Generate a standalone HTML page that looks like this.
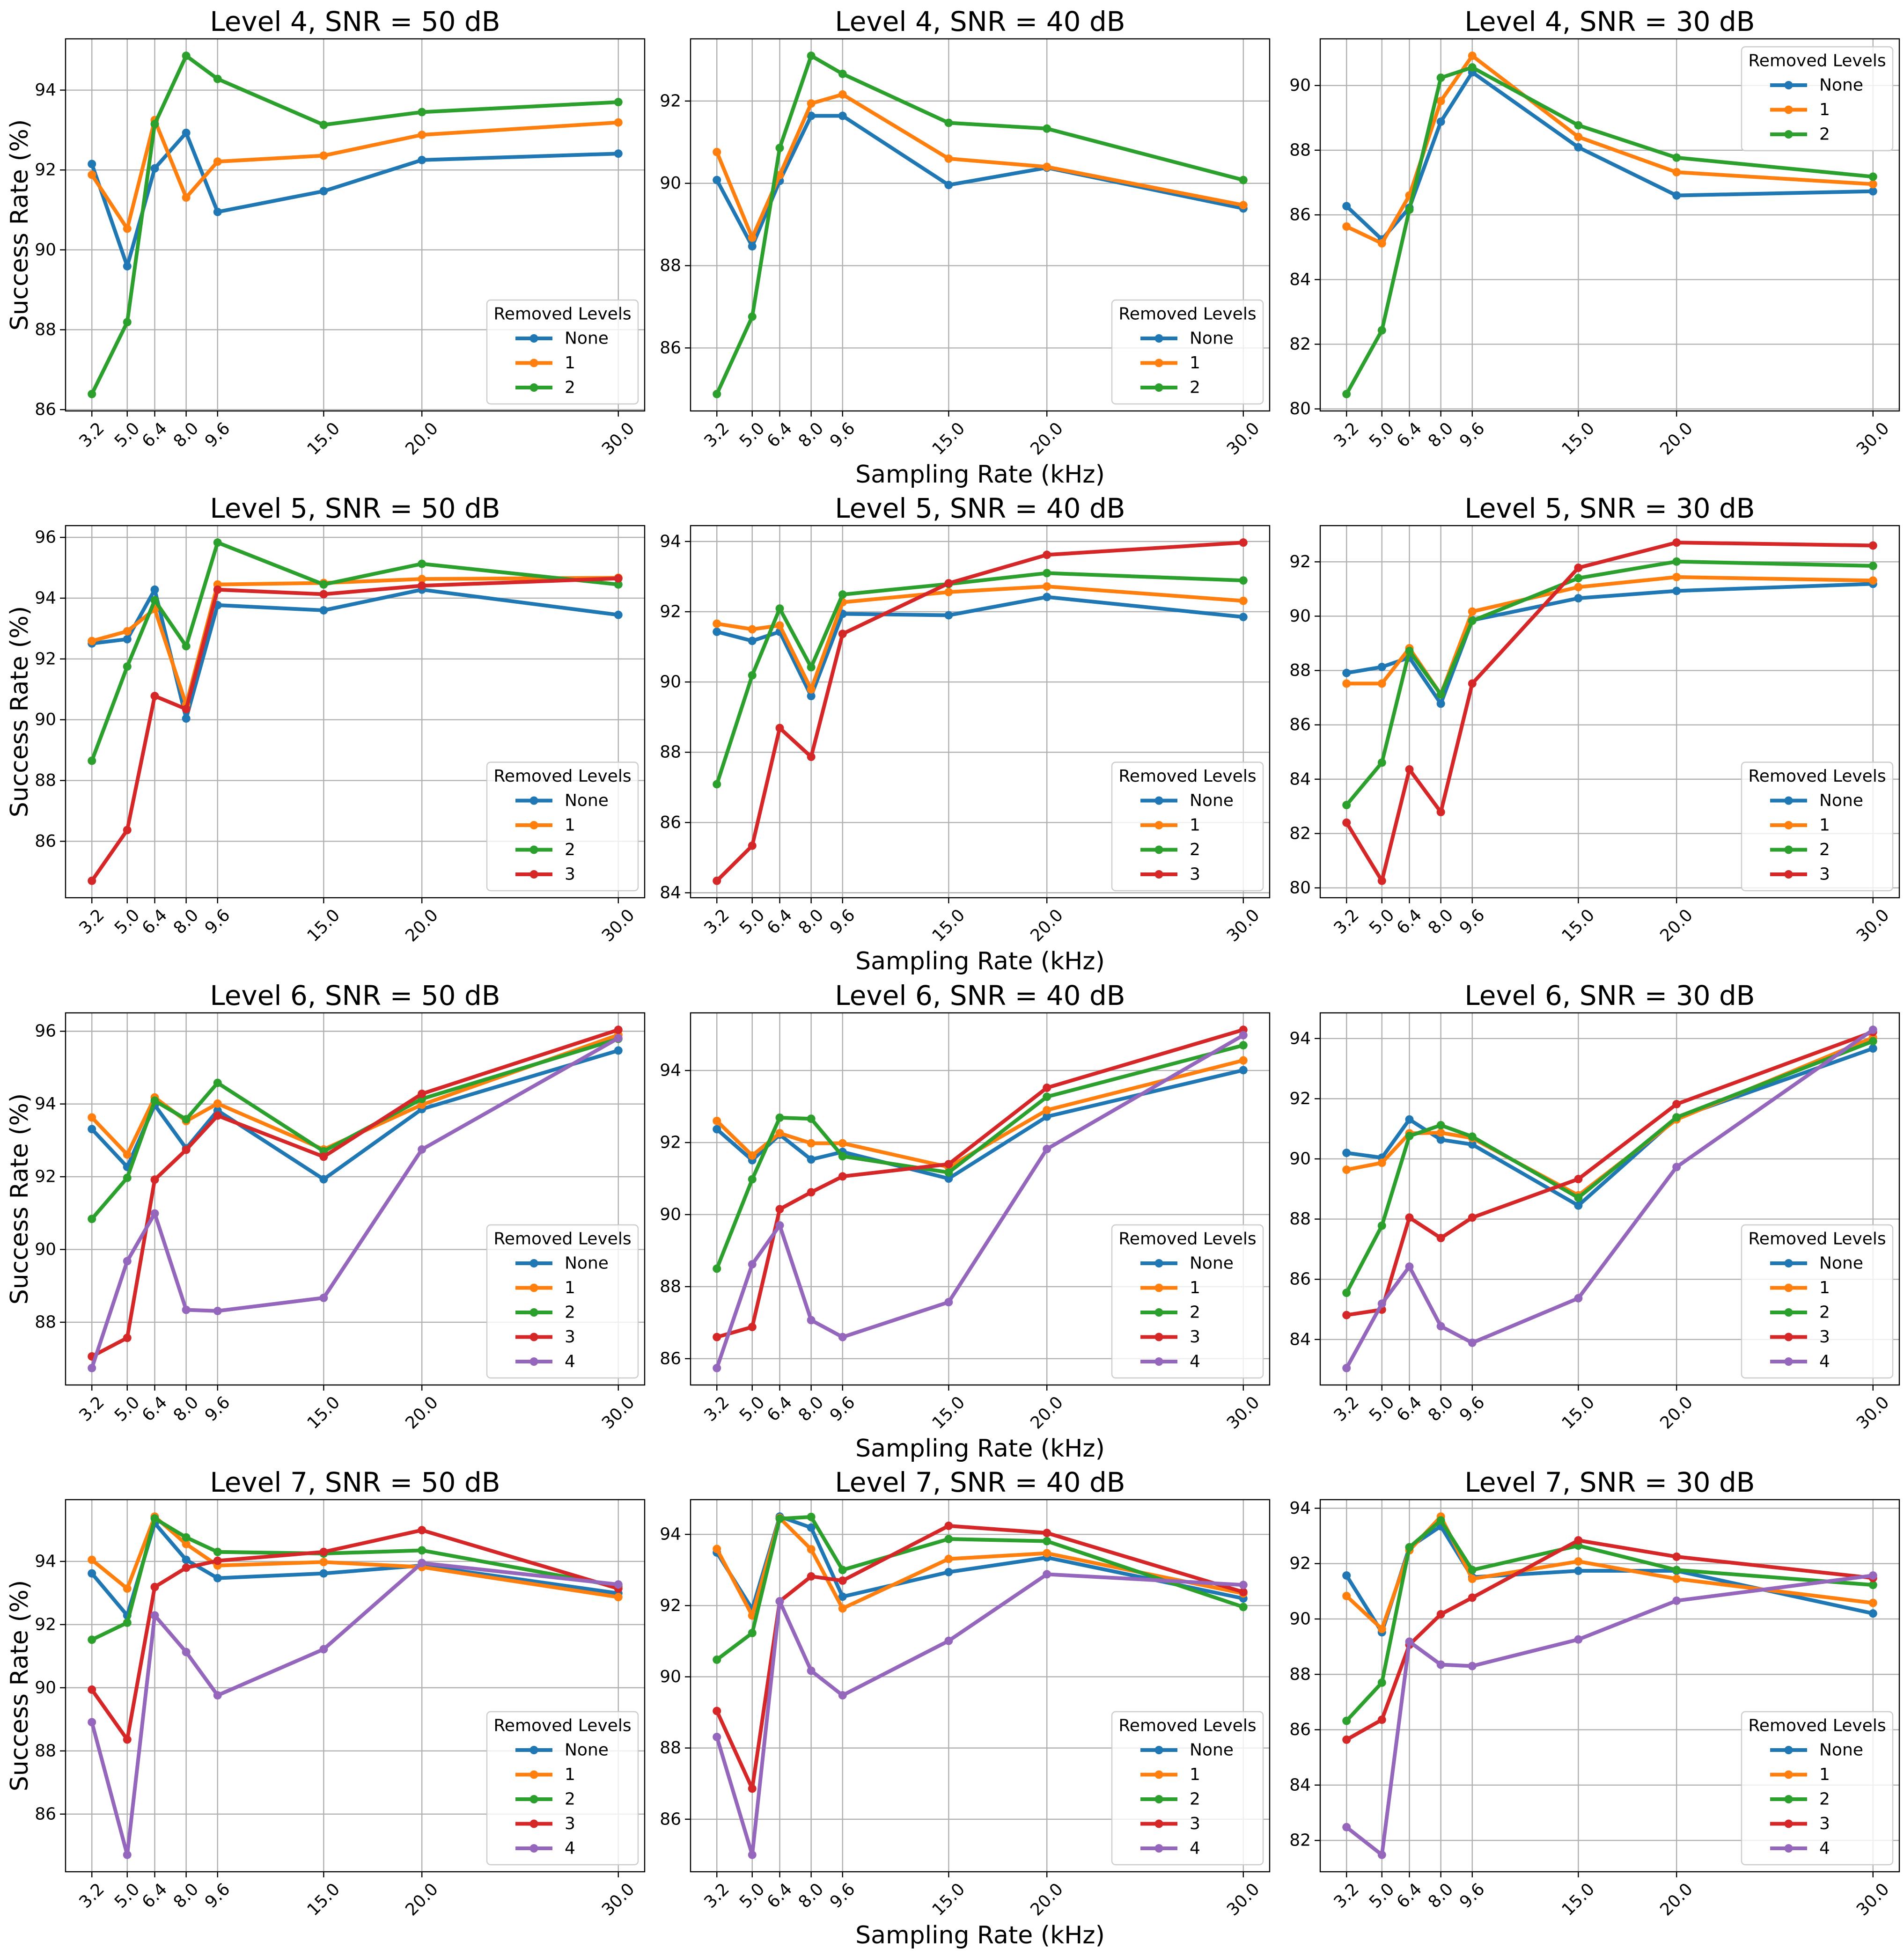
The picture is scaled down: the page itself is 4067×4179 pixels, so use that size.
<!DOCTYPE html>
<html><head><meta charset="utf-8"><style>
html,body{margin:0;padding:0;background:#fff}
svg{display:block;font-family:"DejaVu Sans","Liberation Sans",sans-serif}
</style></head><body>
<svg id="fig" xmlns="http://www.w3.org/2000/svg" width="4067" height="4179" viewBox="0 0 4067 4179"></svg>
<script>
const rates=[3.2,5.0,6.4,8.0,9.6,15.0,20.0,30.0];
const rateLabels=['3.2','5.0','6.4','8.0','9.6','15.0','20.0','30.0'];
const seriesNames=['None','1','2','3','4'];
const colors=['#1f77b4','#ff7f0e','#2ca02c','#d62728','#9467bd'];
const levels=[4,5,6,7];
const snrs=[50,40,30];

const l4_50=[[92.15,89.59,92.04,92.93,90.95,91.47,92.25,92.41],[91.88,90.53,93.25,91.31,92.21,92.36,92.88,93.19],[86.39,88.19,93.15,94.86,94.28,93.13,93.45,93.70]];
const l4_40=[[90.08,88.47,90.06,91.64,91.64,89.96,90.38,89.39],[90.76,88.68,90.2,91.94,92.16,90.6,90.40,89.47],[84.88,86.76,90.86,93.10,92.66,91.47,91.33,90.08]];
const l4_30=[[86.27,85.24,86.22,88.88,90.41,88.09,86.60,86.73],[85.64,85.12,86.6,89.52,90.92,88.41,87.32,86.95],[80.46,82.43,86.16,90.24,90.56,88.77,87.77,87.18]];

const l5_50=[[92.51,92.65,94.28,90.04,93.77,93.60,94.28,93.45],[92.59,92.91,93.64,90.5,94.45,94.5,94.63,94.67],[88.65,91.75,93.93,92.42,95.83,94.45,95.13,94.45],[84.70,86.37,90.78,90.35,94.28,94.13,94.41,94.65]];
const l5_40=[[91.43,91.17,91.43,89.6,91.94,91.90,92.42,91.85],[91.66,91.50,91.61,89.79,92.27,92.56,92.72,92.31],[87.09,90.19,92.09,90.42,92.49,92.79,93.10,92.89],[84.34,85.34,88.69,87.87,91.37,92.81,93.62,93.97]];
const l5_30=[[87.91,88.13,88.48,86.78,89.85,90.66,90.93,91.19],[87.52,87.52,88.82,87.12,90.17,91.07,91.44,91.31],[83.05,84.61,88.72,87.12,89.83,91.40,92.01,91.85],[82.40,80.26,84.36,82.79,87.52,91.78,92.71,92.60]];

const l6_50=[[93.31,92.27,93.97,92.78,93.82,91.93,93.86,95.47],[93.63,92.61,94.18,93.53,94.01,92.75,93.98,95.90],[90.84,91.97,94.09,93.58,94.58,92.70,94.14,95.79],[87.06,87.57,91.92,92.74,93.68,92.55,94.28,96.04],[86.74,89.68,90.99,88.34,88.31,88.67,92.75,95.81]];
const l6_40=[[92.37,91.51,92.22,91.53,91.74,91.0,92.72,94.01],[92.60,91.64,92.26,91.98,91.98,91.32,92.90,94.28],[88.50,90.98,92.69,92.66,91.62,91.17,93.27,94.70],[86.60,86.88,90.15,90.62,91.06,91.40,93.52,95.13],[85.74,88.62,89.70,87.07,86.60,87.57,91.82,94.98]];
const l6_30=[[90.20,90.04,91.31,90.64,90.48,88.45,91.36,93.67],[89.64,89.87,90.85,90.87,90.69,88.79,91.31,94.03],[85.55,87.78,90.76,91.12,90.74,88.71,91.38,93.91],[84.81,84.99,88.05,87.37,88.05,89.33,91.82,94.22],[83.05,85.19,86.42,84.44,83.89,85.37,89.73,94.29]];

const l7_50=[[93.62,92.29,95.21,94.05,93.47,93.62,93.87,92.99],[94.05,93.14,95.42,94.55,93.87,93.98,93.82,92.87],[91.52,92.06,95.36,94.76,94.30,94.25,94.35,93.21],[89.94,88.36,93.19,93.80,94.02,94.30,94.99,93.14],[88.91,84.71,92.29,91.13,89.76,91.22,93.95,93.27]];
const l7_40=[[93.49,91.9,94.50,94.19,92.25,92.94,93.35,92.20],[93.59,91.72,94.46,93.58,91.92,93.31,93.47,92.34],[90.48,91.23,94.44,94.49,93.0,93.87,93.81,91.96],[89.04,86.86,92.12,92.82,92.70,94.24,94.04,92.38],[88.31,85.0,92.12,90.17,89.48,91.01,92.88,92.58]];
const l7_30=[[91.57,89.52,92.59,93.35,91.51,91.74,91.74,90.20],[90.83,89.64,92.48,93.70,91.45,92.08,91.45,90.58],[86.32,87.70,92.59,93.56,91.77,92.65,91.77,91.23],[85.64,86.36,89.07,90.17,90.77,92.84,92.25,91.48],[82.48,81.48,89.18,88.35,88.30,89.26,90.66,91.57]];

const panelData=[[l4_50,l4_40,l4_30],[l5_50,l5_40,l5_30],[l6_50,l6_40,l6_30],[l7_50,l7_40,l7_30]];

const NS='http://www.w3.org/2000/svg';
const svg=document.getElementById('fig');
const colLeft=[140,1475,2820], W=1237;
const rowTop=[83,1123,2164,3204], H=795;
function mk(tag,attrs,parent){const e=document.createElementNS(NS,tag);for(const k in attrs)e.setAttribute(k,attrs[k]);(parent||svg).appendChild(e);return e;}
const xmin=rates[0]-0.05*(rates[rates.length-1]-rates[0]);
const xmax=rates[rates.length-1]+0.05*(rates[rates.length-1]-rates[0]);

for(let r=0;r<4;r++){for(let c=0;c<3;c++){
  const data=panelData[r][c];
  const L=colLeft[c], T=rowTop[r];
  let lo=Infinity,hi=-Infinity;
  data.forEach(s=>s.forEach(v=>{lo=Math.min(lo,v);hi=Math.max(hi,v);}));
  const ymin=lo-0.05*(hi-lo), ymax=hi+0.05*(hi-lo);
  const X=v=>L+(v-xmin)/(xmax-xmin)*W;
  const Y=v=>T+H-(v-ymin)/(ymax-ymin)*H;
  const g=mk('g',{});
  
  
  const t=mk('text',{x:L+W/2,y:T-17,'text-anchor':'middle','font-size':58,fill:'#000'},g);
  t.textContent='Level '+levels[r]+', SNR = '+snrs[c]+' dB';
  
  
  const yt=[];for(let v=Math.ceil(ymin/2)*2;v<=ymax;v+=2)yt.push(v);
  rates.forEach((v,i)=>{
    const gl=mk('line',{x1:X(v),x2:X(v),y1:T,y2:T+H,stroke:'#b0b0b0','stroke-width':2.4},g);
    
    
    mk('line',{x1:X(v),x2:X(v),y1:T+H,y2:T+H+12,stroke:'#000','stroke-width':2.4},g);
    const lbl=rateLabels[i];
    const w=36*(lbl.replace('.','').length*0.636+0.318);
    const cy=T+H+22+(w+26)/(2*Math.SQRT2);
    const tx=mk('text',{x:X(v),y:cy,'text-anchor':'middle','dominant-baseline':'central','font-size':36,transform:'rotate(-45 '+X(v)+' '+cy+')'},g);
    tx.textContent=lbl;
    
    
  });
  yt.forEach(v=>{
    const gl=mk('line',{x1:L,x2:L+W,y1:Y(v),y2:Y(v),stroke:'#b0b0b0','stroke-width':2.4},g);
    
    
    mk('line',{x1:L-12,x2:L,y1:Y(v),y2:Y(v),stroke:'#000','stroke-width':2.4},g);
    const tx=mk('text',{x:L-20,y:Y(v),'text-anchor':'end','dominant-baseline':'central','font-size':36},g);
    tx.textContent=String(v);
    
    
  });
  data.forEach((s,si)=>{
    const sg=mk('g',{},g);
    
    
    const pts=s.map((v,i)=>X(rates[i])+','+Y(v)).join(' ');
    mk('polyline',{points:pts,fill:'none',stroke:colors[si],'stroke-width':8,'stroke-linejoin':'round','stroke-linecap':'butt'},sg);
    s.forEach((v,i)=>{
      const p=mk('circle',{cx:X(rates[i]),cy:Y(v),r:9,fill:colors[si]},sg);
      
      
    });
  });
  const fr=mk('rect',{x:L,y:T,width:W,height:H,fill:'none',stroke:'#000','stroke-width':2.4},g);
  
  
  const n=data.length;
  const lw=323, lh=222+52.5*(n-3);
  const lx=L+W-14-lw;
  const upper=(r===0&&c===2);
  const ly=upper?T+17:T+H-15-lh;
  const lg=mk('g',{},g);
  
  
  mk('rect',{x:lx,y:ly,width:lw,height:lh,rx:8,fill:'#fff','fill-opacity':0.8,stroke:'#cccccc','stroke-width':2.4},lg);
  const lt=mk('text',{x:lx+lw/2,y:ly+30,'text-anchor':'middle','dominant-baseline':'central','font-size':36},lg);
  lt.textContent='Removed Levels';
  
  
  for(let si=0;si<n;si++){
    const ey=ly+82+52.5*si;
    const eg=mk('g',{},lg);
    
    
    mk('line',{x1:lx+61,x2:lx+140,y1:ey,y2:ey,stroke:colors[si],'stroke-width':8},eg);
    mk('circle',{cx:lx+100.5,cy:ey,r:9,fill:colors[si]},eg);
    const et=mk('text',{x:lx+166,y:ey,'dominant-baseline':'central','font-size':36},eg);
    et.textContent=seriesNames[si];
  }
  if(c===0){
    const yl=mk('text',{x:42,y:T+H/2,'text-anchor':'middle','dominant-baseline':'central','font-size':52,transform:'rotate(-90 42 '+(T+H/2)+')'},g);
    yl.textContent='Success Rate (%)';
    
    
  }
  if(c===1){
    const xl=mk('text',{x:L+W/2,y:T+H+136,'text-anchor':'middle','dominant-baseline':'central','font-size':52},g);
    xl.textContent='Sampling Rate (kHz)';
    
    
  }
}}
</script>
</body></html>
